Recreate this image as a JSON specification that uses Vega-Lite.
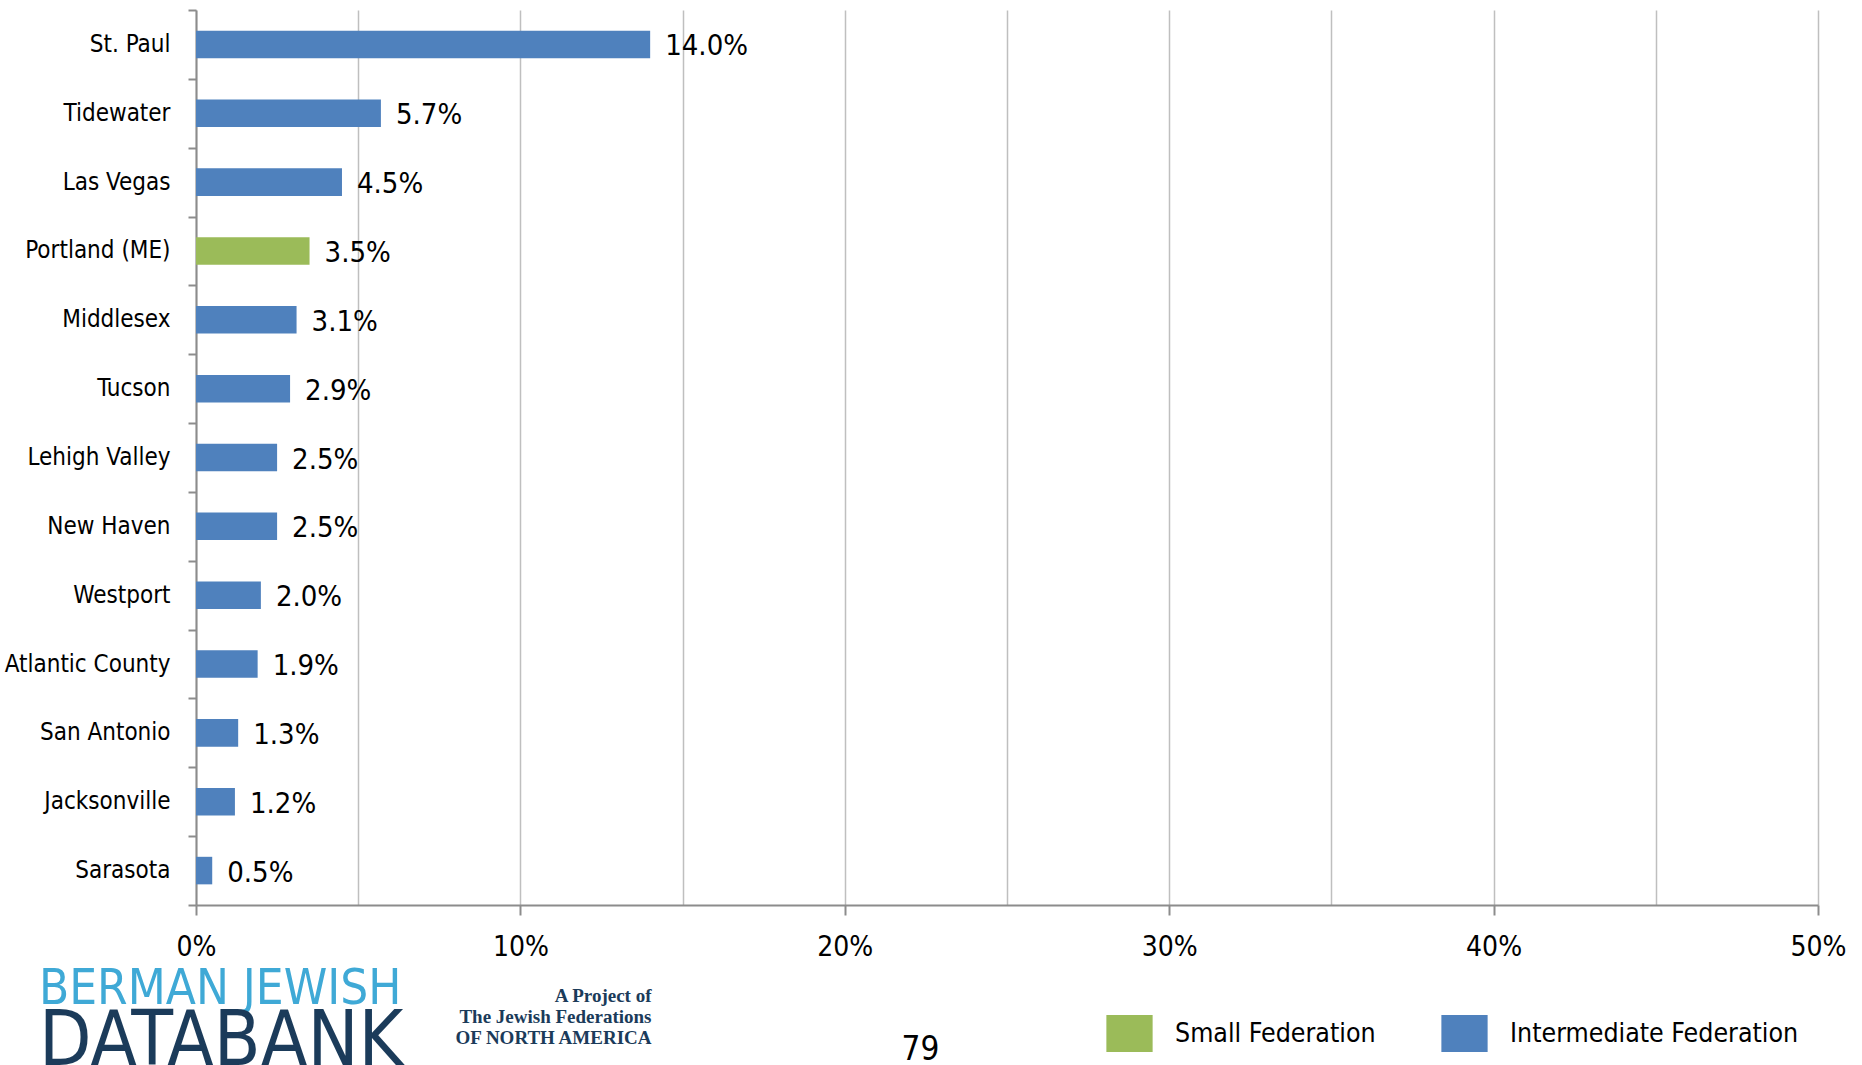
{
  "$schema": "https://vega.github.io/schema/vega-lite/v6.json",
  "width": 1622,
  "height": 895,
  "autosize": {"type": "none"},
  "padding": {"left": 196, "top": 10, "right": 44, "bottom": 160},
  "background": "white",
  "config": {
    "view": {"stroke": null},
    "font": "DejaVu Sans Condensed, sans-serif"
  },
  "title": {
    "text": "BERMAN JEWISH",
    "subtitle": "DATABANK",
    "orient": "top",
    "anchor": "start",
    "frame": "group",
    "dx": -157,
    "dy": 1082,
    "offset": 0,
    "font": "DejaVu Sans Condensed, sans-serif",
    "fontSize": 49,
    "fontWeight": "normal",
    "color": "#3FA9D6",
    "subtitleFont": "DejaVu Sans Condensed, sans-serif",
    "subtitleFontSize": 76,
    "subtitleColor": "#1B3B5A",
    "subtitlePadding": -9
  },
  "data": {
    "values": [
      {"federation": "St. Paul", "share": 0.140, "type": "Intermediate Federation"},
      {"federation": "Tidewater", "share": 0.057, "type": "Intermediate Federation"},
      {"federation": "Las Vegas", "share": 0.045, "type": "Intermediate Federation"},
      {"federation": "Portland (ME)", "share": 0.035, "type": "Small Federation"},
      {"federation": "Middlesex", "share": 0.031, "type": "Intermediate Federation"},
      {"federation": "Tucson", "share": 0.029, "type": "Intermediate Federation"},
      {"federation": "Lehigh Valley", "share": 0.025, "type": "Intermediate Federation"},
      {"federation": "New Haven", "share": 0.025, "type": "Intermediate Federation"},
      {"federation": "Westport", "share": 0.020, "type": "Intermediate Federation"},
      {"federation": "Atlantic County", "share": 0.019, "type": "Intermediate Federation"},
      {"federation": "San Antonio", "share": 0.013, "type": "Intermediate Federation"},
      {"federation": "Jacksonville", "share": 0.012, "type": "Intermediate Federation"},
      {"federation": "Sarasota", "share": 0.005, "type": "Intermediate Federation"}
    ]
  },
  "encoding": {
    "y": {
      "field": "federation",
      "type": "nominal",
      "sort": null,
      "scale": {"paddingInner": 0, "paddingOuter": 0},
      "axis": {
        "domainColor": "#8c8c8c",
        "domainWidth": 2,
        "tickBand": "extent",
        "tickSize": 8,
        "tickColor": "#8c8c8c",
        "tickWidth": 2,
        "labelPadding": 18,
        "labelFontSize": 24,
        "labelColor": "#000000",
        "labelLimit": 400,
        "grid": false,
        "title": ["A Project of", "The Jewish Federations", "OF NORTH AMERICA"],
        "titleAngle": 0,
        "titleX": 455,
        "titleY": 976,
        "titleAlign": "right",
        "titleBaseline": "top",
        "titleFont": "Liberation Serif, DejaVu Serif, serif",
        "titleFontSize": 19,
        "titleFontWeight": "bold",
        "titleColor": "#1B3B5A",
        "titleLineHeight": 21
      }
    }
  },
  "layer": [
    {
      "mark": {"type": "bar", "height": {"band": 0.4}},
      "encoding": {
        "x": {
          "field": "share",
          "type": "quantitative",
          "scale": {"domain": [0, 0.5], "nice": false},
          "axis": {
            "values": [0, 0.05, 0.1, 0.15, 0.2, 0.25, 0.3, 0.35, 0.4, 0.45, 0.5],
            "format": "%",
            "labelExpr": "round(datum.value*100) % 10 != 0 ? '' : datum.label",
            "labelFlush": false,
            "labelOverlap": false,
            "grid": true,
            "gridColor": "#bfbfbf",
            "gridWidth": 1.5,
            "domainColor": "#8c8c8c",
            "domainWidth": 2,
            "tickColor": "#8c8c8c",
            "tickWidth": 2,
            "tickSize": 10,
            "tickOpacity": {"condition": {"test": "round(datum.value*100) % 10 != 0", "value": 0}, "value": 1},
            "labelPadding": 18,
            "labelFontSize": 28,
            "labelColor": "#000000",
            "title": "79",
            "titleX": 724,
            "titleY": 154,
            "titleAlign": "center",
            "titleBaseline": "alphabetic",
            "titleFontSize": 33,
            "titleFontWeight": "normal",
            "titleColor": "#000000"
          }
        },
        "color": {
          "field": "type",
          "type": "nominal",
          "scale": {
            "domain": ["Small Federation", "Intermediate Federation"],
            "range": ["#9BBB59", "#4F81BD"]
          },
          "legend": {
            "orient": "none",
            "legendX": 915,
            "legendY": 1005,
            "direction": "horizontal",
            "title": null,
            "padding": 0,
            "symbolType": "M-1.25,-1H1.25V1H-1.25Z",
            "symbolSize": 1369,
            "symbolStrokeWidth": 0,
            "symbolOpacity": 1,
            "labelFontSize": 26.5,
            "labelOffset": 27,
            "labelColor": "#000000",
            "labelLimit": 400,
            "columnPadding": 65
          }
        }
      }
    },
    {
      "mark": {"type": "text", "align": "left", "baseline": "middle", "dx": 15, "dy": 2, "fontSize": 29, "color": "#000000"},
      "encoding": {
        "x": {"field": "share", "type": "quantitative"},
        "text": {"field": "share", "type": "quantitative", "format": ".1%"}
      }
    }
  ]
}
